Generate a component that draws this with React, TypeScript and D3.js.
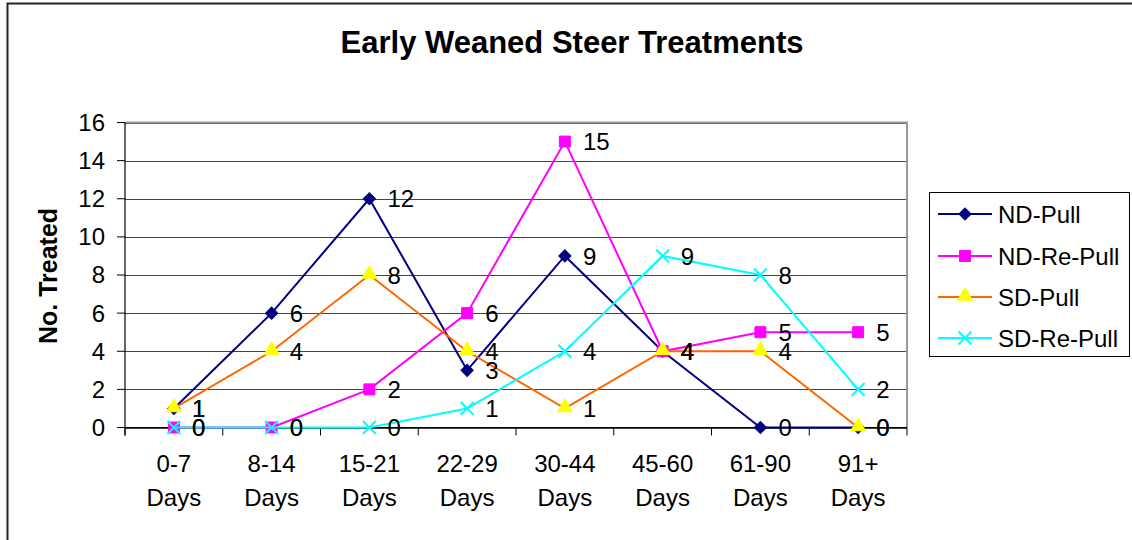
import React from 'react';
import * as d3 from 'd3';

// Age windows (two-line labels: range + "Days")
const categories = ['0-7', '8-14', '15-21', '22-29', '30-44', '45-60', '61-90', '91+'];
const yTicks = [0, 2, 4, 6, 8, 10, 12, 14, 16];

const ndPull = [1, 6, 12, 3, 9, 4, 0, 0];
const ndRePull = [0, 0, 2, 6, 15, 4, 5, 5];
const sdPull = [1, 4, 8, 4, 1, 4, 4, 0];
const sdRePull = [0, 0, 0, 1, 4, 9, 8, 2];

type Marker = 'diamond' | 'square' | 'triangle' | 'x';

const series: Array<{ name: string; values: number[]; line: string; fill: string; marker: Marker }> = [
  { name: 'ND-Pull', values: ndPull, line: '#000080', fill: '#000080', marker: 'diamond' },
  { name: 'ND-Re-Pull', values: ndRePull, line: '#FF00FF', fill: '#FF00FF', marker: 'square' },
  { name: 'SD-Pull', values: sdPull, line: '#FF6600', fill: '#FFFF00', marker: 'triangle' },
  { name: 'SD-Re-Pull', values: sdRePull, line: '#00FFFF', fill: '#00FFFF', marker: 'x' },
];

const W = 1132;
const H = 540;
const plot = { left: 125, right: 907, top: 122.5, bottom: 427.5 };
const font = '"Liberation Sans", Arial, sans-serif';

const markerPath = (m: Marker) => {
  if (m === 'diamond') return d3.symbol(d3.symbolSquare, 75)()!;
  if (m === 'square') return d3.symbol(d3.symbolSquare, 120)()!;
  if (m === 'triangle') return d3.symbol(d3.symbolTriangle, 95)()!;
  return d3.symbol((d3 as any).symbolX || d3.symbolTimes, 110)()!;
};

const MarkerShape: React.FC<{ m: Marker; fill: string; x: number; y: number }> = ({ m, fill, x, y }) => {
  const d = markerPath(m);
  if (m === 'x') {
    return <path d={d} transform={`translate(${x},${y})`} fill="none" stroke={fill} strokeWidth={2} />;
  }
  const rot = m === 'diamond' ? ' rotate(45)' : '';
  const dy = m === 'triangle' ? -1 : 0;
  return <path d={d} transform={`translate(${x},${y + dy})${rot}`} fill={fill} stroke={fill} strokeWidth={1} />;
};

const App: React.FC = () => {
  const x = d3.scaleBand<string>().domain(categories).range([plot.left, plot.right]).padding(0);
  const y = d3.scaleLinear().domain([0, 16]).range([plot.bottom, plot.top]);
  const cx = (c: string) => (x(c) ?? 0) + x.bandwidth() / 2;

  const line = d3
    .line<number>()
    .x((_, i) => cx(categories[i]))
    .y((v) => y(v));

  const legend = { x: 929, y: 192, w: 200, h: 164, rowY: [214, 256, 297, 338] };

  return (
    <svg
      width={W}
      height={H}
      style={{ position: 'absolute', left: 0, top: 0, background: '#fff' }}
      fontFamily={font}
    >
      <rect x={0} y={0} width={W} height={H} fill="#fff" />
      {/* outer chart border */}
      <rect x={7.5} y={3.5} width={W + 10} height={H + 10} fill="none" stroke="#222" strokeWidth={2} />

      <text x={572} y={53} textAnchor="middle" fontSize={31} fontWeight="bold">
        Early Weaned Steer Treatments
      </text>

      {/* gridlines */}
      {yTicks.map((t) => (
        <line key={`g${t}`} x1={plot.left} x2={plot.right} y1={Math.round(y(t)) + 0.5} y2={Math.round(y(t)) + 0.5} stroke="#444" strokeWidth={1} />
      ))}
      {/* plot frame */}
      <line x1={plot.left} x2={plot.right + 1} y1={plot.top} y2={plot.top} stroke="#999" strokeWidth={2} />
      <line x1={plot.right} x2={plot.right} y1={plot.top} y2={plot.bottom} stroke="#999" strokeWidth={2} />
      <line x1={plot.left} x2={plot.left} y1={plot.top} y2={plot.bottom + 8} stroke="#000" strokeWidth={1.2} />
      <line x1={plot.left - 8} x2={plot.right} y1={plot.bottom} y2={plot.bottom} stroke="#000" strokeWidth={1.2} />

      {/* y ticks */}
      {yTicks.map((t) => (
        <g key={`yt${t}`}>
          <line x1={plot.left - 8} x2={plot.left} y1={y(t)} y2={y(t)} stroke="#000" />
          <text x={105} y={y(t)} dy="0.35em" textAnchor="end" fontSize={24}>
            {t}
          </text>
        </g>
      ))}
      {/* x ticks */}
      {categories.map((c) => (
        <line key={`xt${c}`} x1={(x(c) ?? 0)} x2={(x(c) ?? 0)} y1={plot.bottom} y2={plot.bottom + 8} stroke="#000" />
      ))}
      <line x1={plot.right} x2={plot.right} y1={plot.bottom} y2={plot.bottom + 8} stroke="#000" />
      {categories.map((c) => (
        <text key={`xl${c}`} x={cx(c)} textAnchor="middle" fontSize={24}>
          <tspan x={cx(c)} y={471.5}>{c}</tspan>
          <tspan x={cx(c)} y={505.5}>Days</tspan>
        </text>
      ))}

      <text
        transform={`translate(57,${(plot.top + plot.bottom) / 2 + 1}) rotate(-90)`}
        textAnchor="middle"
        fontSize={25}
        fontWeight="bold"
      >
        No. Treated
      </text>

      {/* series */}
      {series.map((s) => (
        <g key={s.name}>
          <path d={line(s.values) ?? ''} fill="none" stroke={s.line} strokeWidth={2} />
          {s.values.map((v, i) => (
            <MarkerShape key={i} m={s.marker} fill={s.fill} x={cx(categories[i])} y={y(v)} />
          ))}
        </g>
      ))}
      {/* data labels */}
      {series.map((s) => (
        <g key={`lab-${s.name}`}>
          {s.values.map((v, i) => (
            <text key={i} x={cx(categories[i]) + 18} y={y(v)} dy="0.36em" fontSize={24}>
              {v}
            </text>
          ))}
        </g>
      ))}

      {/* legend */}
      <rect x={legend.x + 0.5} y={legend.y + 0.5} width={legend.w} height={legend.h} fill="#fff" stroke="#000" />
      {series.map((s, i) => (
        <g key={`lg${s.name}`}>
          <line x1={938} x2={992} y1={legend.rowY[i]} y2={legend.rowY[i]} stroke={s.line} strokeWidth={2} />
          <MarkerShape m={s.marker} fill={s.fill} x={965} y={legend.rowY[i]} />
          <text x={998} y={legend.rowY[i]} dy="0.36em" fontSize={24}>
            {s.name}
          </text>
        </g>
      ))}
    </svg>
  );
};

export default App;
